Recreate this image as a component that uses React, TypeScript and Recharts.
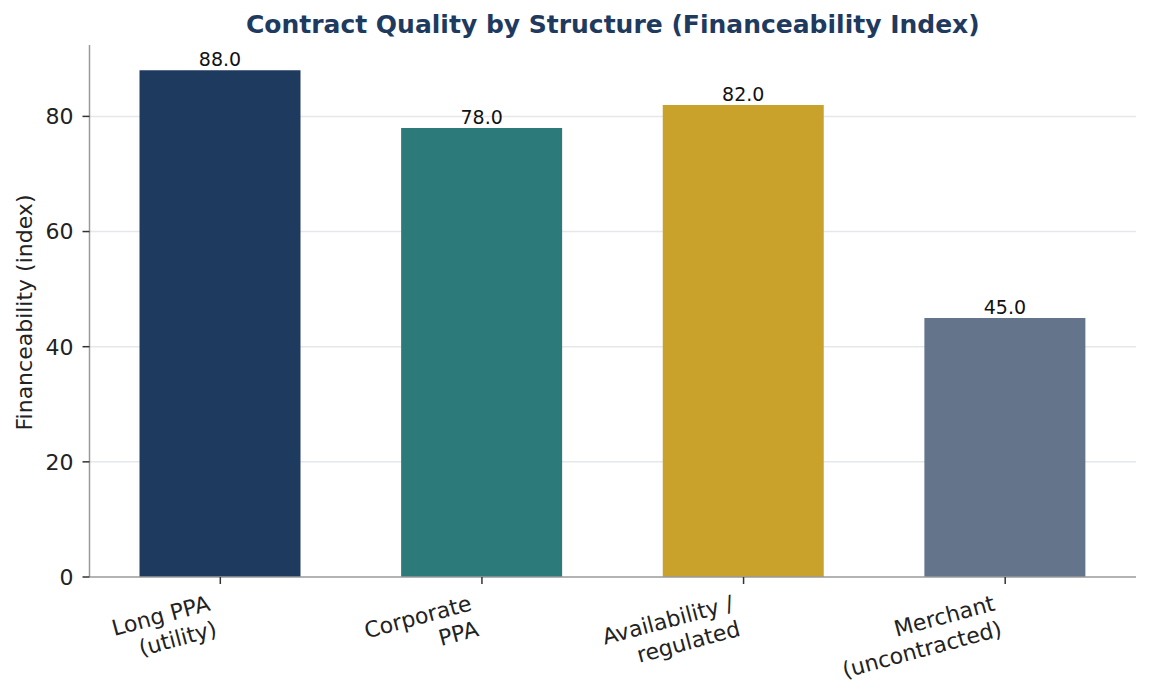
import React from 'react';
import { BarChart, Bar, XAxis, YAxis, CartesianGrid, Cell, LabelList } from 'recharts';

const categories = ['Long PPA\n(utility)', 'Corporate\nPPA', 'Availability /\nregulated', 'Merchant\n(uncontracted)'];
const values = [88, 78, 82, 45];
const colors = ['#1f3a5f', '#2d7a7b', '#c9a22b', '#64748b'];
const yTicks = [0, 20, 40, 60, 80];
const yMax = 92.4;
const title = 'Contract Quality by Structure (Financeability Index)';
const yLabel = 'Financeability (index)';

const data = categories.map((c, i) => ({ name: c, value: values[i] }));

const FONT = 'DejaVu Sans';

const XTick = (props: any) => {
  const { x, y, payload } = props;
  const lines = String(payload.value).split('\n');
  return (
    <g transform={`translate(${x - 9},${y + 25}) rotate(-15)`}>
      <text textAnchor="end" fontSize={22} fill="#222" fontFamily={FONT}>
        {lines.map((l, i) => (
          <tspan key={i} x={0} y={i * 26.4}>
            {l}
          </tspan>
        ))}
      </text>
    </g>
  );
};

export default function App() {
  return (
    <div style={{ position: 'absolute', left: 0, top: 0, width: 1151, height: 691, background: '#fff' }}>
      <BarChart
        width={1151}
        height={691}
        data={data}
        margin={{ top: 45, right: 15, bottom: 14, left: 0 }}
      >
        <CartesianGrid
          horizontal
          vertical={false}
          horizontalValues={yTicks.slice(1)}
          stroke="#e5e7eb"
          strokeWidth={1.5}
        />
        <XAxis
          dataKey="name"
          height={100}
          interval={0}
          tick={<XTick />}
          tickSize={7}
          tickMargin={1}
          axisLine={{ stroke: '#9a9a9a', strokeWidth: 1.5 }}
          tickLine={{ stroke: '#333', strokeWidth: 1.5 }}
        />
        <YAxis
          type="number"
          domain={[0, yMax]}
          ticks={yTicks}
          width={89.5}
          tickSize={7}
          tickMargin={9}
          axisLine={{ stroke: '#9a9a9a', strokeWidth: 1.5 }}
          tickLine={{ stroke: '#333', strokeWidth: 1.5 }}
          tick={{ fontSize: 22, fill: '#222', fontFamily: FONT }}
        />
        <Bar dataKey="value" barSize={161} isAnimationActive={false}>
          {data.map((d, i) => (
            <Cell key={i} fill={colors[i]} />
          ))}
          <LabelList
            dataKey="value"
            position="top"
            offset={4}
            formatter={(v: any) => Number(v).toFixed(1)}
            fontSize={19}
            fill="#111"
            fontFamily={FONT}
          />
        </Bar>
      </BarChart>
      <svg
        width={1151}
        height={691}
        style={{ position: 'absolute', left: 0, top: 0, pointerEvents: 'none' }}
      >
        <text
          x={612.8}
          y={33}
          textAnchor="middle"
          fontSize={25}
          fontWeight="bold"
          fill="#1f3a5f"
          fontFamily={FONT}
        >
          {title}
        </text>
        <text
          transform="translate(31.5,312.5) rotate(-90)"
          textAnchor="middle"
          fontSize={22}
          fill="#222"
          fontFamily={FONT}
        >
          {yLabel}
        </text>
      </svg>
    </div>
  );
}
